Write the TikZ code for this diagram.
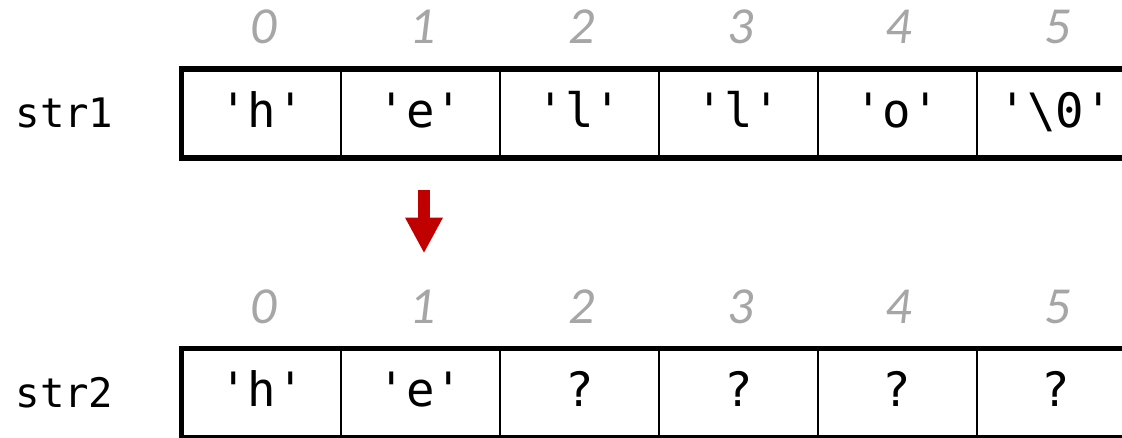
\documentclass[tikz,border=0pt]{standalone}
\usepackage{fontspec}
\setmonofont{DejaVu Sans Mono}
\newfontfamily\idxfont{Carlito}
\usetikzlibrary{arrows.meta}
\definecolor{idxgray}{HTML}{A6A6A6}
\definecolor{arrred}{HTML}{C00000}
\tikzset{
  cell/.style={draw, line width=1.5pt, minimum width=119.1pt, minimum height=65.25pt,
    inner sep=0pt, text height=22.5pt, text depth=2.25pt,
    font=\ttfamily\fontsize{35.5}{40}\selectfont},
  outerbox/.style={draw, line width=4.1pt},
  idx/.style={anchor=base, text=idxgray, inner sep=0pt, font=\idxfont\itshape\fontsize{39}{44}\selectfont},
  lbl/.style={anchor=base, inner sep=0pt, font=\ttfamily\fontsize{30.5}{36}\selectfont},
  copyarrow/.style={draw=arrred, line width=9pt, -{Triangle[width=26.25pt, length=26.7pt, fill=arrred]}}
}
\begin{document}
\begin{tikzpicture}[x=0.75pt, y=-0.75pt]
\useasboundingbox (0,0) rectangle (1122,437);
\clip (0,0) rectangle (1122,437);
% top array
\node[cell] (a0) at (261.9,113.5) {'h'};
\node[cell] (a1) at (420.7,113.5) {'e'};
\node[cell] (a2) at (579.5,113.5) {'l'};
\node[cell] (a3) at (738.3,113.5) {'l'};
\node[cell] (a4) at (897.1,113.5) {'o'};
\node[cell] (a5) at (1055.9,113.5) {'\textbackslash0'};
\draw[outerbox] (a0.north west) rectangle (a5.south east);
\node[lbl] (s1) at (64.5,127) {str1};
\node[idx] (i0) at (264,43.5) {0};
\node[idx] (i1) at (422.7,43.5) {1};
\node[idx] (i2) at (581.5,43.5) {2};
\node[idx] (i3) at (740.3,43.5) {3};
\node[idx] (i4) at (899.1,43.5) {4};
\node[idx] (i5) at (1057.9,43.5) {5};
% bottom array
\node[cell] (b0) at (261.9,393.2) {'h'};
\node[cell] (b1) at (420.7,393.2) {'e'};
\node[cell] (b2) at (579.5,393.2) {?};
\node[cell] (b3) at (738.3,393.2) {?};
\node[cell] (b4) at (897.1,393.2) {?};
\node[cell] (b5) at (1055.9,393.2) {?};
\draw[outerbox] (b0.north west) rectangle (b5.south east);
\node[lbl] (s2) at (64.5,407) {str2};
\node[idx] (j0) at (264,323.5) {0};
\node[idx] (j1) at (422.7,323.5) {1};
\node[idx] (j2) at (581.5,323.5) {2};
\node[idx] (j3) at (740.3,323.5) {3};
\node[idx] (j4) at (899.1,323.5) {4};
\node[idx] (j5) at (1057.9,323.5) {5};
% arrow
\coordinate (arrtop) at (424,190);
\coordinate (arrtip) at (424,253.3);
\draw[copyarrow] (arrtop) -- (arrtip);
\end{tikzpicture}
\end{document}
